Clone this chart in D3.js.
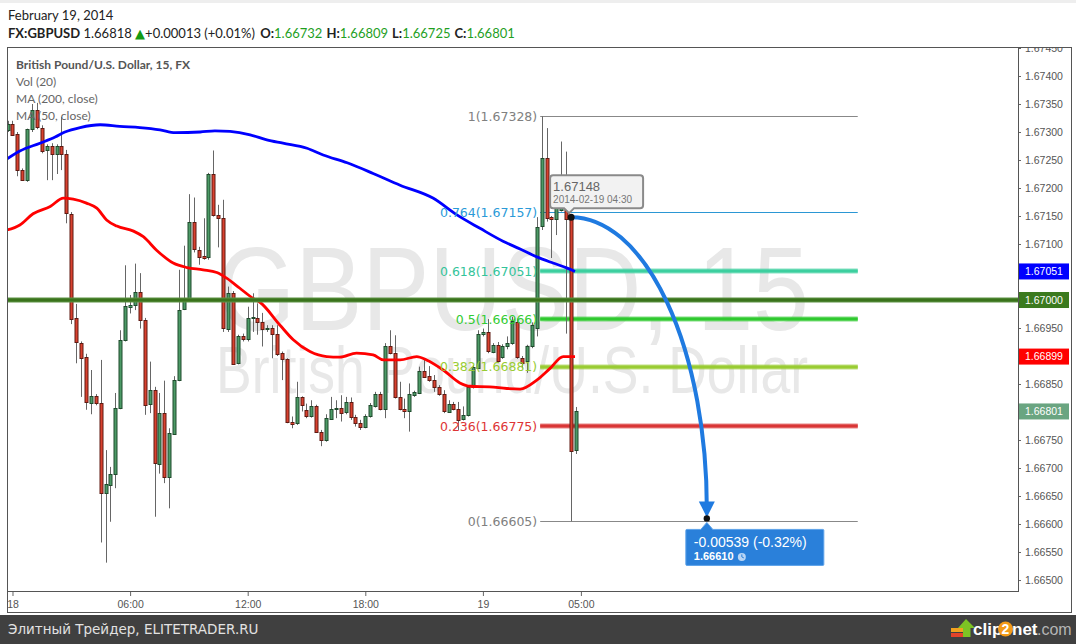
<!DOCTYPE html>
<html>
<head>
<meta charset="utf-8">
<script src="https://cdn.jsdelivr.net/npm/d3@7"></script>
<style>
body { margin: 0; background: #fff; }
svg { display: block; }
</style>
</head>
<body>
<div id="chart"></div>
<script>
// Define your data
let firstBar = new Date(2014, 1, 18, 0, 0);   // bar index 0 = 18 Feb 00:00, 15 min bars
let firstIndex = -1;
let candleOHLC = [
  [1.67305,1.67320,1.67300,1.67315],[1.67315,1.67320,1.67295,1.67296],[1.67296,1.67300,1.67221,1.67231],
  [1.67232,1.67235,1.67213,1.67215],[1.67214,1.67306,1.67211,1.67305],[1.67305,1.67350,1.67300,1.67339],
  [1.67339,1.67352,1.67305,1.67308],[1.67308,1.67312,1.67262,1.67267],[1.67267,1.67278,1.67214,1.67275],
  [1.67275,1.67280,1.67214,1.67260],[1.67260,1.67278,1.67225,1.67275],[1.67275,1.67327,1.67232,1.67260],
  [1.67260,1.67268,1.67137,1.67154],[1.67154,1.67157,1.66957,1.66967],[1.66967,1.66993,1.66887,1.66924],
  [1.66924,1.66926,1.66827,1.66898],[1.66898,1.66904,1.66804,1.66817],[1.66817,1.66875,1.66796,1.66829],
  [1.66829,1.66832,1.66812,1.66816],[1.66816,1.66893,1.66567,1.66655],[1.66655,1.66732,1.66531,1.66671],
  [1.66671,1.66702,1.66604,1.66690],[1.66690,1.66834,1.66664,1.66807],[1.66807,1.66946,1.66805,1.66929],
  [1.66929,1.67062,1.66926,1.66989],[1.66988,1.67009,1.66976,1.66991],[1.66991,1.67065,1.66982,1.67015],
  [1.67015,1.67048,1.66949,1.66965],[1.66965,1.66968,1.66795,1.66814],[1.66814,1.66890,1.66798,1.66839],
  [1.66839,1.66845,1.66613,1.66708],[1.66708,1.66834,1.66690,1.66799],[1.66799,1.66856,1.66673,1.66684],
  [1.66684,1.66771,1.66628,1.66762],[1.66762,1.66864,1.66760,1.66858],[1.66858,1.67054,1.66855,1.66983],
  [1.66983,1.67097,1.66982,1.67003],[1.67003,1.67189,1.67000,1.67139],[1.67139,1.67183,1.67085,1.67090],
  [1.67090,1.67095,1.67063,1.67077],[1.67079,1.67146,1.67072,1.67076],[1.67076,1.67227,1.67072,1.67225],
  [1.67225,1.67267,1.67149,1.67152],[1.67152,1.67170,1.67094,1.67146],[1.67146,1.67179,1.66943,1.66949],
  [1.66949,1.67024,1.66943,1.67013],[1.67013,1.67016,1.66884,1.66887],[1.66887,1.66938,1.66885,1.66936],
  [1.66936,1.66940,1.66926,1.66930],[1.66930,1.66988,1.66926,1.66967],[1.66967,1.67012,1.66943,1.66969],
  [1.66968,1.66994,1.66938,1.66961],[1.66961,1.66977,1.66917,1.66948],[1.66948,1.66955,1.66943,1.66950],
  [1.66950,1.66955,1.66896,1.66940],[1.66940,1.66955,1.66900,1.66905],[1.66905,1.66908,1.66857,1.66894],
  [1.66894,1.66896,1.66780,1.66781],[1.66783,1.66792,1.66771,1.66779],[1.66779,1.66854,1.66777,1.66826],
  [1.66826,1.66828,1.66801,1.66811],[1.66803,1.66815,1.66789,1.66793],[1.66793,1.66821,1.66790,1.66811],
  [1.66811,1.66813,1.66763,1.66765],[1.66765,1.66768,1.66739,1.66750],[1.66750,1.66796,1.66747,1.66789],
  [1.66789,1.66827,1.66786,1.66806],[1.66806,1.66821,1.66789,1.66808],[1.66808,1.66830,1.66783,1.66799],
  [1.66799,1.66827,1.66796,1.66817],[1.66817,1.66826,1.66786,1.66791],[1.66791,1.66795,1.66774,1.66781],
  [1.66781,1.66786,1.66768,1.66774],[1.66774,1.66796,1.66771,1.66793],[1.66793,1.66816,1.66790,1.66813],
  [1.66811,1.66836,1.66808,1.66833],[1.66833,1.66836,1.66803,1.66806],[1.66806,1.66923,1.66789,1.66918],
  [1.66918,1.66946,1.66903,1.66906],[1.66906,1.66937,1.66824,1.66827],[1.66827,1.66854,1.66803,1.66806],
  [1.66806,1.66824,1.66789,1.66802],[1.66802,1.66851,1.66765,1.66832],[1.66830,1.66838,1.66827,1.66835],
  [1.66835,1.66881,1.66832,1.66874],[1.66874,1.66893,1.66861,1.66864],[1.66864,1.66882,1.66854,1.66857],
  [1.66857,1.66866,1.66836,1.66844],[1.66844,1.66848,1.66829,1.66832],[1.66832,1.66839,1.66798,1.66801],
  [1.66801,1.66821,1.66799,1.66815],[1.66815,1.66818,1.66803,1.66806],[1.66806,1.66818,1.66768,1.66787],
  [1.66787,1.66810,1.66785,1.66795],[1.66795,1.66848,1.66792,1.66845],[1.66845,1.66884,1.66842,1.66880],
  [1.66880,1.66946,1.66877,1.66940],[1.66938,1.66949,1.66935,1.66942],[1.66942,1.66966,1.66905,1.66908],
  [1.66908,1.66923,1.66905,1.66920],[1.66920,1.66925,1.66888,1.66892],[1.66899,1.66921,1.66895,1.66918],
  [1.66918,1.66935,1.66912,1.66923],[1.66923,1.66970,1.66920,1.66962],[1.66960,1.66967,1.66895,1.66898],
  [1.66897,1.66900,1.66878,1.66888],[1.66890,1.66920,1.66870,1.66917],[1.66917,1.66960,1.66914,1.66955],
  [1.66950,1.67148,1.66935,1.67131],[1.67131,1.67328,1.67125,1.67253],[1.67253,1.67307,1.67140,1.67146],
  [1.67148,1.67150,1.67075,1.67144],[1.67144,1.67208,1.67116,1.67173],[1.67160,1.67283,1.67158,1.67175],
  [1.67167,1.67265,1.66940,1.67144],[1.67148,1.67150,1.66605,1.66730],[1.66732,1.66809,1.66725,1.66801]
];

// moving averages: [bar index, value]
let ma200Points = [
  [-1.1,1.67252],[1.5,1.67266],[5.6,1.67280],[8.7,1.67291],[10.7,1.67300],[13.8,1.67308],[17.9,1.67313],
  [21.9,1.67310],[26,1.67308],[30.1,1.67304],[33.2,1.67299],[38.3,1.67300],[41.3,1.67302],[44.4,1.67301],
  [48.5,1.67295],[51.9,1.67286],[55.2,1.67280],[60.1,1.67271],[63.4,1.67259],[68.3,1.67245],[73.6,1.67226],
  [79.1,1.67205],[85.8,1.67182],[90.7,1.67152],[95.4,1.67128],[100.1,1.67105],[103.6,1.67091],[107,1.67077],
  [110.3,1.67066],[113.2,1.67057],[114.8,1.67051]
];
let ma50Points = [
  [-1.1,1.67125],[1.5,1.67134],[4.2,1.67154],[7.7,1.67167],[10.4,1.67182],[12.4,1.67180],[15.1,1.67173],
  [17.2,1.67164],[19.2,1.67143],[21.3,1.67132],[24.7,1.67123],[26.7,1.67113],[29.4,1.67089],[32.8,1.67066],
  [35.6,1.67058],[38.9,1.67054],[41.7,1.67049],[43.7,1.67039],[46.4,1.67021],[49.1,1.67003],[50.5,1.66996],
  [54.6,1.66955],[57.3,1.66929],[60.7,1.66908],[64.1,1.66899],[66.8,1.66898],[70.2,1.66905],[73.6,1.66902],
  [75.7,1.66893],[79.1,1.66893],[82.5,1.66899],[84.5,1.66893],[87.9,1.66875],[91.3,1.66852],[93.4,1.66846],
  [97.4,1.66845],[100.9,1.66842],[103.6,1.66841],[107,1.66857],[109.7,1.66878],[112.4,1.66899],[114.8,1.66899]
];

let fibRatios = ["1", "0.764", "0.618", "0.5", "0.382", "0.236", "0"];
let fibPrices = [1.67328, 1.67157, 1.67051, 1.66966, 1.66881, 1.66775, 1.66605];
let fibBars = [108, 172.5];

let supportLevel = 1.67000;
let priceTicks = [1.6650,1.6655,1.6660,1.6665,1.6670,1.6675,1.6680,1.6685,1.6690,1.6695,
                  1.6700,1.6705,1.6710,1.6715,1.6720,1.6725,1.6730,1.6735,1.6740,1.6745];
let priceMarkers = [1.67051, 1.67000, 1.66899, 1.66801];
let timeTicks = [new Date(2014,1,18,0,0), new Date(2014,1,18,6,0), new Date(2014,1,18,12,0),
                 new Date(2014,1,18,18,0), new Date(2014,1,19,0,0), new Date(2014,1,19,5,0)];
let timeTickLabels = ["18", "06:00", "12:00", "18:00", "19", "05:00"];

let quoteSymbol = "FX:GBPUSD";
let quoteLast = "1.66818";
let quoteChange = "+0.00013 (+0.01%)";
let ohlcNames = ["O:", "H:", "L:", "C:"];
let ohlcValues = ["1.66732", "1.66809", "1.66725", "1.66801"];

let hoverBar = 114, hoverPrice = 1.67148;
let measureEnd = [141.7, 1.66610];
let measureText = ["-0.00539 (-0.32%)", "1.66610"];

// Styles
let fibColors = ["#888888", "#2b97d4", "#3ccf9f", "#2fc92f", "#99cc33", "#d93636", "#888888"];
let fibLabelColors = ["#808080", "#2a9ad8", "#33c49a", "#33cc33", "#99cc33", "#dd3535", "#808080"];
let fibWidths = [1, 1, 5, 5, 5, 5, 1];
let markerColors = ["#0000ff", "#3b7a1e", "#ff0000", "#6aa581"];

let W = 1076, H = 644;
let plot = {left: 7, top: 47, right: 1018, bottom: 592};
let uiFont = "Lato, 'Open Sans', sans-serif";
let axisFont = "'Liberation Sans', Arial, sans-serif";
let fibFont = "'DejaVu Sans', Verdana, sans-serif";

let barTime = function(i) { return new Date(firstBar.getTime() + i * 15 * 60000); };

let svg = d3.select("#chart").append("svg")
    .attr("width", W)
    .attr("height", H);

// Set the ranges
let x = d3.scaleTime()
    .domain([new Date(2014, 1, 17, 23, 43, 10), new Date(2014, 1, 20, 3, 15)])
    .range([plot.left, plot.right - 1]);
let y = d3.scaleLinear()
    .domain([1.664786, 1.674518])
    .range([plot.bottom, plot.top]);
let xb = function(i) { return x(barTime(i)); };

svg.append("rect").attr("width", W).attr("height", 3).attr("fill", "#eeeeee");

// Header
svg.append("text")
    .attr("x", 8).attr("y", 20)
    .style("font", "13px " + uiFont).attr("fill", "#222")
    .text("February 19, 2014");

let quote = svg.append("text")
    .attr("x", 8).attr("y", 38)
    .style("font", "13px " + uiFont).attr("fill", "#222");
quote.append("tspan").attr("font-weight", "bold").text(quoteSymbol);
quote.append("tspan").text(" " + quoteLast + " ");
quote.append("tspan").attr("fill", "#139a13").style("font-family", "'DejaVu Sans'").style("font-size", "13px").text("▲");
quote.append("tspan").text(quoteChange + " ");
ohlcNames.forEach(function(n, i) {
    quote.append("tspan").attr("font-weight", "bold").attr("dx", i ? 4 : 2).text(n);
    quote.append("tspan").attr("fill", "#1fa01f").text(ohlcValues[i]);
});

// Clip for the plot area
svg.append("clipPath").attr("id", "plotclip")
  .append("rect")
    .attr("x", plot.left).attr("y", plot.top)
    .attr("width", plot.right - plot.left).attr("height", plot.bottom - plot.top);

let g = svg.append("g").attr("clip-path", "url(#plotclip)");

// Watermark
g.append("text")
    .attr("x", 217).attr("y", 330)
    .attr("textLength", 592).attr("lengthAdjust", "spacingAndGlyphs")
    .style("font", "119px " + axisFont).attr("fill", "#e8e8e8")
    .text("GBPUSD, 15");
g.append("text")
    .attr("x", 216).attr("y", 393)
    .attr("textLength", 592).attr("lengthAdjust", "spacingAndGlyphs")
    .style("font", "66px " + axisFont).attr("fill", "#e8e8e8")
    .text("British Pound/U.S. Dollar");

// Fibonacci levels (lines)
let fibX0 = xb(fibBars[0]) - 1.5, fibX1 = xb(fibBars[1]);
fibPrices.forEach(function(p, i) {
    let yy = Math.round(y(p)) + (fibWidths[i] === 1 ? 0.5 : 0);
    if (fibWidths[i] > 1) {
        g.append("line")
            .attr("x1", fibX0).attr("x2", fibX1).attr("y1", yy).attr("y2", yy)
            .attr("stroke", fibColors[i]).attr("stroke-opacity", 0.6).attr("stroke-width", fibWidths[i]);
        g.append("line")
            .attr("x1", fibX0).attr("x2", fibX1).attr("y1", yy).attr("y2", yy)
            .attr("stroke", fibColors[i]).attr("stroke-width", fibWidths[i] - 2);
    } else {
        g.append("line")
            .attr("x1", fibX0).attr("x2", fibX1).attr("y1", yy).attr("y2", yy)
            .attr("stroke", fibColors[i]).attr("stroke-width", 1);
    }
});

// Add the candles
let candles = candleOHLC.map(function(d, k) {
    return {i: firstIndex + k, o: d[0], h: d[1], l: d[2], c: d[3]};
});
let bars = g.selectAll(".candle")
    .data(candles)
    .enter().append("g")
    .attr("class", "candle")
    .attr("transform", function(d) { return "translate(" + (Math.round(xb(d.i)) + 0.5) + ",0)"; });
bars.append("line")
    .attr("y1", function(d) { return y(d.h); })
    .attr("y2", function(d) { return y(d.l); })
    .attr("stroke", "#666");
bars.append("rect")
    .attr("x", -1.5)
    .attr("width", 3)
    .attr("y", function(d) { return Math.round(y(Math.max(d.o, d.c))) + 0.5; })
    .attr("height", function(d) { return Math.max(1, Math.round(Math.abs(y(d.o) - y(d.c)))); })
    .attr("fill", function(d) { return d.c >= d.o ? "#4c9a66" : "#d9412f"; })
    .attr("stroke", function(d) { return d.c >= d.o ? "#1f4a2c" : "#5e1a12"; });

// Moving averages
let maLine = d3.line()
    .x(function(d) { return xb(d[0]); })
    .y(function(d) { return y(d[1]); })
    .curve(d3.curveMonotoneX);
g.append("path").datum(ma200Points)
    .attr("d", maLine).attr("fill", "none")
    .attr("stroke", "#0000ff").attr("stroke-width", 2.8);
g.append("path").datum(ma50Points)
    .attr("d", maLine).attr("fill", "none")
    .attr("stroke", "#ff0000").attr("stroke-width", 2.8);

// Horizontal support line
let supY = Math.round(y(supportLevel));
g.append("line")
    .attr("x1", plot.left).attr("x2", plot.right).attr("y1", supY).attr("y2", supY)
    .attr("stroke", "#5f9447").attr("stroke-width", 5);
g.append("line")
    .attr("x1", plot.left).attr("x2", plot.right).attr("y1", supY).attr("y2", supY)
    .attr("stroke", "#3a731c").attr("stroke-width", 3);

// Fibonacci labels
fibPrices.forEach(function(p, i) {
    g.append("text")
        .attr("x", fibX0 - 3).attr("y", y(p)).attr("dy", "0.36em")
        .attr("text-anchor", "end")
        .style("font", "12.5px " + fibFont)
        .attr("fill", fibLabelColors[i])
        .text(fibRatios[i] + "(" + d3.format(".5f")(p) + ")");
});

// Measure arrow
let sx = xb(hoverBar), sy = y(hoverPrice);
let ex = xb(measureEnd[0]), ey = y(measureEnd[1]);
g.append("path")
    .attr("d", "M" + sx + "," + sy + " A" + (ex - sx) + "," + (ey - 10 - sy) + " 0 0 1 " + ex + "," + (ey - 10))
    .attr("fill", "none").attr("stroke", "#1f7ae0").attr("stroke-width", 4);
g.append("path")
    .attr("d", "M" + (ex - 8) + "," + (ey - 17) + " L" + (ex + 8) + "," + (ey - 17) + " L" + ex + "," + (ey - 1) + "Z")
    .attr("fill", "#1f7ae0");
g.append("circle").attr("cx", ex).attr("cy", ey).attr("r", 3.2).attr("fill", "#111");
g.append("circle").attr("cx", sx).attr("cy", sy).attr("r", 3.5).attr("fill", "#111");

// Measure label
let mb = g.append("g").attr("transform", "translate(" + ex + "," + ey + ")");
mb.append("path")
    .attr("d", "M-20,11 L-6,11 L0,4 L6,11 L116,11 Q117,11 117,12 L117,46 Q117,47 116,47 L-20,47 Q-21,47 -21,46 L-21,12 Q-21,11 -20,11Z")
    .attr("fill", "#2a80da").attr("stroke", "#5ea3ea").attr("stroke-width", 1);
mb.append("text")
    .attr("x", -13).attr("y", 29)
    .style("font", "14px " + axisFont).attr("fill", "#fff")
    .text(measureText[0]);
mb.append("text")
    .attr("x", -13).attr("y", 42)
    .style("font", "bold 11px " + axisFont).attr("fill", "#fff")
    .text(measureText[1]);
mb.append("circle").attr("cx", 35).attr("cy", 38.5).attr("r", 4).attr("fill", "#b9d5f5");
mb.append("path").attr("d", "M35,36 L35,38.5 L37,39.5").attr("stroke", "#2a80da").attr("stroke-width", 1).attr("fill", "none");

// Tooltip
let tt = g.append("g").attr("transform", "translate(" + sx + "," + sy + ")");
tt.append("path")
    .attr("d", "M-18,-42 L69,-42 Q72,-42 72,-39 L72,-12 Q72,-9 69,-9 L3,-9 L-2,-4 L-7,-9 L-18,-9 Q-21,-9 -21,-12 L-21,-39 Q-21,-42 -18,-42Z")
    .attr("fill", "#f2f2f2").attr("stroke", "#8a8a8a").attr("stroke-width", 2);
tt.append("text")
    .attr("x", -18).attr("y", -26)
    .style("font", "13px " + axisFont).attr("fill", "#666")
    .text(d3.format(".5f")(hoverPrice));
tt.append("text")
    .attr("x", -18).attr("y", -14)
    .style("font", "10px " + axisFont).attr("fill", "#777")
    .text(d3.timeFormat("%Y-%m-%d %H:%M")(barTime(hoverBar)));

// Legend
let legend = svg.append("g").style("font", "12px " + uiFont);
legend.append("text").attr("x", 16).attr("y", 69).attr("font-weight", "bold").attr("fill", "#555")
    .text("British Pound/U.S. Dollar, 15, FX");
["Vol (20)", "MA (200, close)", "MA (50, close)"].forEach(function(t, i) {
    legend.append("text").attr("x", 16).attr("y", 86 + i * 17).attr("fill", "#666").text(t);
});

// Add the Y Axis
let yAxis = svg.append("g")
    .attr("transform", "translate(" + plot.right + ",0)")
    .attr("clip-path", "url(#axisclip)")
    .call(d3.axisRight(y).tickValues(priceTicks).tickSize(3).tickPadding(4).tickFormat(d3.format(".5f")));
svg.append("clipPath").attr("id", "axisclip")
  .append("rect").attr("x", 0).attr("y", plot.top).attr("width", 60).attr("height", plot.bottom - plot.top);
yAxis.select(".domain").remove();
yAxis.selectAll("text").style("font", "10.5px " + axisFont).attr("fill", "#555");
yAxis.selectAll("line").attr("stroke", "#666");

// Price markers on the axis
priceMarkers.forEach(function(p, i) {
    let m = svg.append("g").attr("transform", "translate(" + plot.right + "," + y(p) + ")");
    m.append("rect").attr("x", 0).attr("y", -8).attr("width", 51).attr("height", 16).attr("fill", markerColors[i]);
    m.append("text").attr("x", 7).attr("dy", "0.35em")
        .style("font", "10.5px " + axisFont).attr("fill", "#fff")
        .text(d3.format(".5f")(p));
});

// Add the X Axis
let xAxis = svg.append("g")
    .attr("transform", "translate(0," + plot.bottom + ")")
    .call(d3.axisBottom(x).tickValues(timeTicks).tickSize(4).tickPadding(5)
        .tickFormat(function(d, i) { return timeTickLabels[i]; }));
xAxis.select(".domain").remove();
xAxis.selectAll("text").style("font", "10.5px " + axisFont).attr("fill", "#555");
xAxis.selectAll("line").attr("stroke", "#666");

// Frames
let frame = svg.append("g").attr("fill", "none").attr("stroke", "#555").attr("stroke-width", 1);
frame.append("rect").attr("x", plot.left + 0.5).attr("y", plot.top + 0.5)
    .attr("width", 1071.5 - plot.left - 0.5).attr("height", 612.5 - plot.top - 0.5);
frame.append("line").attr("x1", plot.right + 0.5).attr("x2", plot.right + 0.5).attr("y1", plot.top).attr("y2", plot.bottom);
frame.append("line").attr("x1", plot.left).attr("x2", plot.right + 1).attr("y1", plot.bottom - 0.5).attr("y2", plot.bottom - 0.5);

// Bottom band
svg.append("rect").attr("x", 0).attr("y", 615).attr("width", W).attr("height", 29).attr("fill", "#404040");
svg.append("text").attr("x", 8).attr("y", 634)
    .style("font", "13.5px " + fibFont).attr("fill", "#e2e2e2")
    .text("Элитный Трейдер, ELITETRADER.RU");

// clip2net logo
let logo = svg.append("g");
logo.append("rect").attr("x", 951).attr("y", 628).attr("width", 12).attr("height", 4).attr("fill", "#f2a21e");
logo.append("rect").attr("x", 951).attr("y", 633).attr("width", 12).attr("height", 4).attr("fill", "#e4432a");
logo.append("path").attr("d", "M966,619 L975,628 L970.5,628 L970.5,637 L963,637 L963,628 L958,628Z").attr("fill", "#7dc424");
logo.append("text").attr("x", 973).attr("y", 635)
    .style("font", "bold 17px " + axisFont).attr("fill", "#fff").text("clip");
logo.append("circle").attr("cx", 1005.5).attr("cy", 629).attr("r", 7.5).attr("fill", "#f39a17");
logo.append("text").attr("x", 1005.5).attr("y", 634).attr("text-anchor", "middle")
    .style("font", "bold 14px " + axisFont).attr("fill", "#fff").text("2");
logo.append("text").attr("x", 1012).attr("y", 635)
    .style("font", "bold 17px " + axisFont).attr("fill", "#fff").text("net");
logo.append("text").attr("x", 1037).attr("y", 635)
    .style("font", "16px " + axisFont).attr("fill", "#b5b5b5").text(".com");
</script>
</body>
</html>
